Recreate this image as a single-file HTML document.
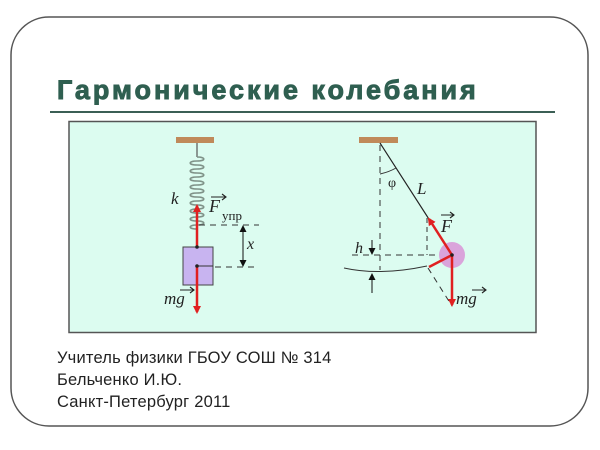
<!DOCTYPE html>
<html><head><meta charset="utf-8"><style>
html,body{margin:0;padding:0;background:#fff;width:600px;height:450px;overflow:hidden}
svg{display:block}
</style></head><body>
<svg width="600" height="450" viewBox="0 0 600 450" xmlns="http://www.w3.org/2000/svg">
<defs>
<marker id="ar" markerWidth="8" markerHeight="8" refX="6" refY="4" orient="auto" markerUnits="userSpaceOnUse"><path d="M0,0 L8,4 L0,8 z" fill="#e02020"/></marker>
<marker id="ak" markerWidth="7" markerHeight="7" refX="6" refY="3.5" orient="auto" markerUnits="userSpaceOnUse"><path d="M0,0 L7,3.5 L0,7 z" fill="#111"/></marker>
</defs>
<rect x="11" y="17" width="577" height="409" rx="38" ry="38" fill="#fff" stroke="#555" stroke-width="1.5"/>
<text x="57" y="99" font-family="Liberation Sans, sans-serif" font-weight="bold" font-size="27" fill="#2f5f50" stroke="#2f5f50" stroke-width="0.9" letter-spacing="2.95">Гармонические колебания</text>
<line x1="50" y1="112" x2="555" y2="112" stroke="#3b5f55" stroke-width="2"/>
<rect x="69" y="121.5" width="467" height="211" fill="#dcfcf0" stroke="#555" stroke-width="1.5"/>

<!-- spring pendulum -->
<rect x="176" y="137" width="38" height="6" fill="#c08a5a"/>
<path d="M197,143 V157" stroke="#555" stroke-width="1.2" fill="none"/>
<path d="M197,157 c9,0 9,4 0,4 c-9,0 -9,4 0,4 c9,0 9,4 0,4 c-9,0 -9,4 0,4 c9,0 9,4 0,4 c-9,0 -9,4 0,4 c9,0 9,4 0,4 c-9,0 -9,4 0,4 c9,0 9,4 0,4 c-9,0 -9,4 0,4 c9,0 9,4 0,4 c-9,0 -9,4 0,4 c9,0 9,4 0,4 c-9,0 -9,4 0,4 c9,0 9,4 0,4 c-9,0 -9,4 0,4 c9,0 9,4 0,4 c-9,0 -9,4 0,4 V247" stroke="#7f9288" stroke-width="1.6" fill="none"/>
<rect x="183" y="247" width="30" height="38" fill="#c8b4f0" stroke="#444" stroke-width="1"/>
<line x1="197" y1="266" x2="213" y2="266" stroke="#333" stroke-width="1"/>
<line x1="197" y1="247" x2="197" y2="206" stroke="#e02020" stroke-width="2.5" marker-end="url(#ar)"/>
<line x1="197" y1="266" x2="197" y2="312" stroke="#e02020" stroke-width="2.5" marker-end="url(#ar)"/>
<circle cx="197" cy="247" r="1.8" fill="#222"/><circle cx="197" cy="266" r="1.8" fill="#222"/>
<line x1="199" y1="225" x2="259" y2="225" stroke="#333" stroke-width="1" stroke-dasharray="6,5"/>
<line x1="215" y1="267" x2="259" y2="267" stroke="#333" stroke-width="1" stroke-dasharray="6,5"/>
<line x1="243" y1="234" x2="243" y2="226" stroke="#111" stroke-width="1" marker-end="url(#ak)"/>
<line x1="243" y1="258" x2="243" y2="266" stroke="#111" stroke-width="1" marker-end="url(#ak)"/>
<line x1="243" y1="232" x2="243" y2="260" stroke="#111" stroke-width="1"/>
<g font-family="Liberation Serif, serif" font-style="italic" fill="#222">
<text x="171" y="204" font-size="17">k</text>
<text x="209" y="212" font-size="18">F</text>
<text x="222" y="220" font-size="13" font-style="normal">упр</text>
<text x="247" y="249" font-size="16">x</text>
<text x="164" y="304" font-size="17">mg</text>
<text x="388" y="187" font-size="14" font-style="normal">φ</text>
<text x="417" y="194" font-size="17">L</text>
<text x="441" y="232" font-size="18">F</text>
<text x="355" y="253" font-size="16">h</text>
<text x="456" y="304" font-size="17">mg</text>
</g>
<g stroke="#222" stroke-width="1.1" fill="none">
<path d="M211,197 H226 M222,194 L226,197 L222,200"/>
<path d="M180,290 H194 M190,287 L194,290 L190,293"/>
<path d="M441,215 H454 M450,212 L454,215 L450,218"/>
<path d="M472,290 H486 M482,287 L486,290 L482,293"/>
</g>

<!-- math pendulum -->
<rect x="359" y="137" width="39" height="6" fill="#c08a5a"/>
<line x1="380" y1="143" x2="452" y2="255" stroke="#222" stroke-width="1.2"/>
<line x1="380" y1="145" x2="380" y2="270" stroke="#333" stroke-width="1" stroke-dasharray="6,5"/>
<line x1="352" y1="255" x2="440" y2="255" stroke="#333" stroke-width="1" stroke-dasharray="6,5"/>
<line x1="427" y1="218" x2="427" y2="255" stroke="#333" stroke-width="1" stroke-dasharray="5,4"/>
<line x1="428" y1="268" x2="452" y2="306" stroke="#333" stroke-width="1" stroke-dasharray="6,5"/>
<path d="M344,268 Q380,276 427,266" stroke="#333" stroke-width="1" fill="none"/>
<path d="M380,174 Q389,172 396,168" stroke="#333" stroke-width="1" fill="none"/>
<line x1="372" y1="240" x2="372" y2="254" stroke="#111" stroke-width="1" marker-end="url(#ak)"/>
<line x1="372" y1="293" x2="372" y2="274" stroke="#111" stroke-width="1" marker-end="url(#ak)"/>
<circle cx="452" cy="255" r="13" fill="#d99ad8" opacity="0.9"/>
<line x1="452" y1="255" x2="429" y2="219" stroke="#e02020" stroke-width="2.5" marker-end="url(#ar)"/>
<line x1="452" y1="255" x2="429" y2="267" stroke="#e02020" stroke-width="2.5"/>
<line x1="452" y1="255" x2="452" y2="305" stroke="#e02020" stroke-width="2.5" marker-end="url(#ar)"/>
<circle cx="452" cy="255" r="1.8" fill="#222"/>

<g font-family="Liberation Sans, sans-serif" font-size="16.5" fill="#222" letter-spacing="0.2">
<text x="57" y="363">Учитель физики ГБОУ СОШ № 314</text>
<text x="57" y="385">Бельченко И.Ю.</text>
<text x="57" y="407">Санкт-Петербург 2011</text>
</g>
</svg>
</body></html>
